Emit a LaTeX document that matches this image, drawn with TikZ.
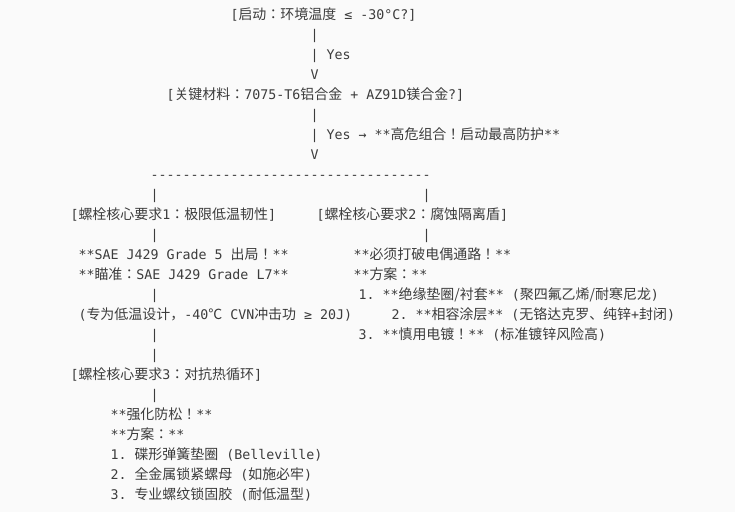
\documentclass[tikz,border=0pt]{standalone}
\usepackage{fontspec}
\setmonofont{DejaVu Sans Mono}
\newfontfamily\cjkfont[Scale=1.05]{Noto Sans CJK JP}
\newcommand{\zh}[1]{{\cjkfont #1}}
\definecolor{txt}{RGB}{60,60,60}
\definecolor{bg}{RGB}{250,250,250}

\begin{document}
\begin{tikzpicture}[x=1pt, y=-1pt,
  line/.style={anchor=base west, inner sep=0pt, outer sep=0pt, text=txt,
    font=\ttfamily\fontsize{13.3}{20}\selectfont}]
% 背景
\fill[bg] (0,0) rectangle (735,512);
\useasboundingbox (0,0) rectangle (735,512);

% 启动条件
\node[line] (start) at (230.5,19.3) {[\zh{启动：环境温度} ≤ -30°C?]};
\node[line] (bar1) at (310.5,39.3) {|};
\node[line] (yes1) at (310.5,59.3) {| Yes};
\node[line] (arr1) at (310.5,79.3) {V};

% 材料判断
\node[line] (mat) at (166.5,99.3) {[\zh{关键材料：}7075-T6\zh{铝合金} + AZ91D\zh{镁合金}?]};
\node[line] (bar2) at (310.5,119.3) {|};
\node[line] (yes2) at (310.5,139.3) {| Yes → **\zh{高危组合！启动最高防护}**};
\node[line] (arr2) at (310.5,159.3) {V};

% 分叉
\node[line] (split) at (150.5,179.3) {-----------------------------------};
\node[line] (lbar1) at (150.5,199.3) {|};
\node[line] (rbar1) at (422.5,199.3) {|};

% 要求1 与 要求2
\node[line] (req1) at (70.5,219.3) {[\zh{螺栓核心要求}1\zh{：极限低温韧性}]};
\node[line] (req2) at (316.5,219.3) {[\zh{螺栓核心要求}2\zh{：腐蚀隔离盾}]};
\node[line] (lbar2) at (150.5,239.3) {|};
\node[line] (rbar2) at (422.5,239.3) {|};

\node[line] (g5) at (78.5,259.3) {**SAE J429 Grade 5 \zh{出局！}**};
\node[line] (l7) at (78.5,279.3) {**\zh{瞄准：}SAE J429 Grade L7**};
\node[line] (lbar3) at (150.5,299.3) {|};
\node[line] (cvn) at (78.5,319.3) {(\zh{专为低温设计，}-40\zh{℃} CVN\zh{冲击功} ≥ 20J)};
\node[line] (lbar4) at (150.5,339.3) {|};
\node[line] (lbar5) at (150.5,359.3) {|};

\node[line] (cut) at (353.5,259.3) {**\zh{必须打破电偶通路！}**};
\node[line] (plan2) at (353.5,279.3) {**\zh{方案：}**};
\node[line] (iso) at (358.5,299.3) {1. **\zh{绝缘垫圈/衬套}** (\zh{聚四氟乙烯/耐寒尼龙})};
\node[line] (coat) at (391.5,319.3) {2. **\zh{相容涂层}** (\zh{无铬达克罗、纯锌}+\zh{封闭})};
\node[line] (plate) at (358.5,339.3) {3. **\zh{慎用电镀！}** (\zh{标准镀锌风险高})};

% 要求3
\node[line] (req3) at (70.5,379.3) {[\zh{螺栓核心要求}3\zh{：对抗热循环}]};
\node[line] (lbar6) at (150.5,399.3) {|};
\node[line] (lock) at (110.5,419.3) {**\zh{强化防松！}**};
\node[line] (plan3) at (110.5,439.3) {**\zh{方案：}**};
\node[line] (m1) at (110.5,459.3) {1. \zh{碟形弹簧垫圈} (Belleville)};
\node[line] (m2) at (110.5,479.3) {2. \zh{全金属锁紧螺母} (\zh{如施必牢})};
\node[line] (m3) at (110.5,499.3) {3. \zh{专业螺纹锁固胶} (\zh{耐低温型})};
\end{tikzpicture}
\end{document}
